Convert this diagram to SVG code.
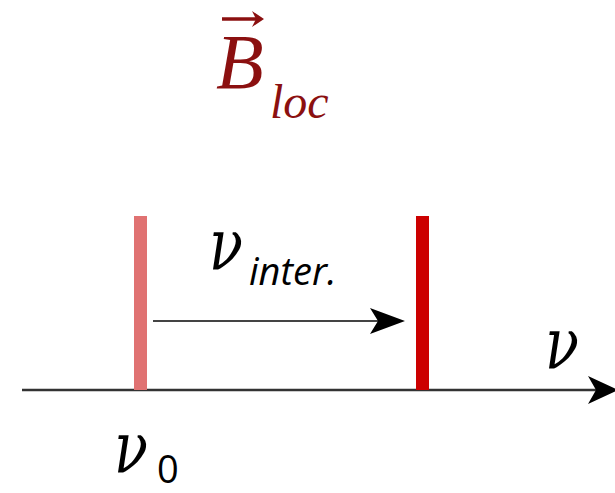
<svg xmlns="http://www.w3.org/2000/svg" width="615" height="493" viewBox="0 0 615 493">
<style>
.nu{font-family:"DejaVu Serif",serif;font-style:italic;fill:#000;font-size:62px;text-anchor:middle}
.sub{font-family:"Open Sans",sans-serif;fill:#000}
.b{font-family:"Liberation Serif",serif;font-style:italic;fill:#8b1010}
</style>
<g id="field">
<text class="b" x="216" y="88" font-size="78">B</text>
<text class="b" x="270" y="118" font-size="48">loc</text>
<line x1="222" y1="19" x2="256" y2="19" stroke="#8b1010" stroke-width="3.5"/>
<path d="M252,11 L264,19 L252,27 L256,19 Z" fill="#8b1010"/>
</g>
<g id="connectors">
<line x1="22" y1="390" x2="600" y2="390" stroke="#333" stroke-width="2.5"/>
<path d="M588,376 L618,390 L588,404 L596,390 Z" fill="#000"/>
<line x1="153" y1="321" x2="380" y2="321" stroke="#444" stroke-width="2"/>
<path d="M370,308 L405,321 L370,334 L378,321 Z" fill="#000"/>
</g>
<g id="line0">
<rect x="134" y="216" width="13" height="174" fill="#e07272"/>
</g>
<g id="line1">
<rect x="416" y="216" width="13" height="174" fill="#cc0000"/>
</g>
<g id="labels">
<text class="nu" transform="translate(226,269) scale(0.9,1.15)">ν</text>
<text class="sub" x="249" y="285" font-size="38" font-style="italic">inter.</text>
<text class="nu" transform="translate(562,368) scale(0.9,1.15)">ν</text>
<text class="nu" transform="translate(131,472) scale(0.9,1.15)">ν</text>
<text class="sub" x="157" y="483" font-size="38">0</text>
</g>
</svg>
